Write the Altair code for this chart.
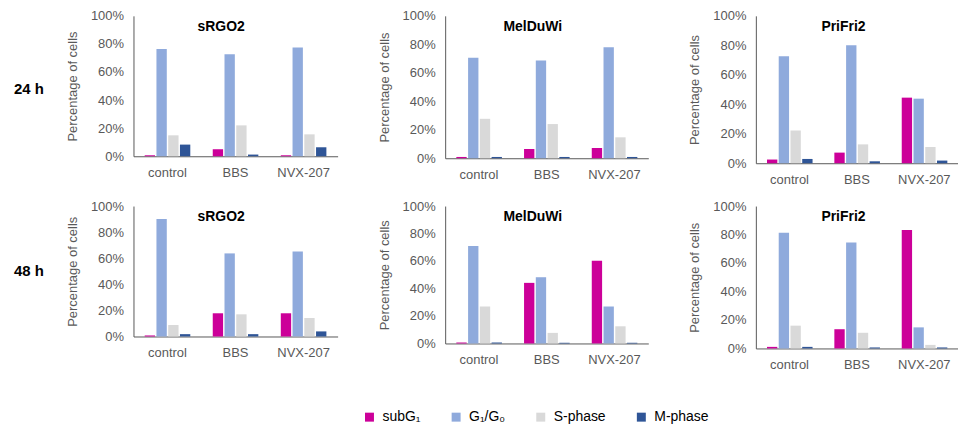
import altair as alt
import pandas as pd

treatments = ["control", "BBS", "NVX-207"]
phases = ["subG₁", "G₁/G₀", "S-phase", "M-phase"]
colors = ["#CC0099", "#8FAADC", "#D9D9D9", "#2F5597"]

# values (%) per treatment, ordered as phases: subG1, G1/G0, S-phase, M-phase
srgo2_24 = [[0.7, 76.4, 14.9, 8.3], [5.0, 72.6, 22.0, 1.2], [0.7, 77.5, 15.6, 6.4]]
melduwi_24 = [[0.9, 70.5, 27.7, 0.9], [6.5, 68.6, 24.0, 0.9], [7.2, 78.0, 14.7, 0.9]]
prifri2_24 = [[2.5, 72.6, 22.2, 2.9], [7.2, 80.0, 12.8, 1.3], [44.5, 43.8, 11.0, 1.8]]
srgo2_48 = [[0.8, 90.0, 8.8, 1.8], [17.8, 63.7, 17.0, 1.8], [17.8, 65.2, 14.2, 3.9]]
melduwi_48 = [[0.7, 71.0, 26.9, 0.7], [44.1, 48.2, 7.7, 0.5], [60.2, 26.9, 12.5, 0.5]]
prifri2_48 = [[1.1, 81.3, 16.0, 1.1], [13.5, 74.4, 11.0, 0.7], [83.1, 14.8, 2.5, 0.7]]

FONT = "Liberation Sans"
GREY = "#595959"


def to_df(vals):
    rows = []
    for t, row in zip(treatments, vals):
        for p, v in zip(phases, row):
            rows.append({"treatment": t, "phase": p, "value": v})
    return pd.DataFrame(rows)


def panel(vals, name, w, h, show_legend=False):
    df = to_df(vals)
    if show_legend:
        color = alt.Color(
            "phase:N", sort=phases, scale=alt.Scale(domain=phases, range=colors),
            legend=alt.Legend(
                orient="none", legendX=356, legendY=396, direction="horizontal",
                title=None, symbolType="square", symbolSize=81, symbolStrokeWidth=0,
                labelFontSize=14, labelFont=FONT, labelColor="#000000",
                columnPadding=28, columns=4, labelOffset=6,
            ),
        )
    else:
        color = alt.Color("phase:N", sort=phases,
                          scale=alt.Scale(domain=phases, range=colors), legend=None)
    bars = alt.Chart(df).mark_bar().encode(
        x=alt.X("treatment:N", sort=treatments, title=None,
                scale=alt.Scale(paddingInner=0.33, paddingOuter=0.165),
                axis=alt.Axis(labelAngle=0, ticks=False, domainColor=GREY,
                              labelColor=GREY, labelFontSize=13, labelFont=FONT,
                              labelPadding=10)),
        xOffset=alt.XOffset("phase:N", sort=phases,
                            scale=alt.Scale(paddingInner=0.12, paddingOuter=0)),
        y=alt.Y("value:Q", scale=alt.Scale(domain=[0, 100]),
                axis=alt.Axis(values=[0, 20, 40, 60, 80, 100],
                              labelExpr="datum.value + '%'",
                              title="Percentage of cells", grid=False, ticks=False,
                              domainColor=GREY, labelColor=GREY, labelFontSize=13,
                              labelFont=FONT, labelPadding=10, titleFont=FONT,
                              titleFontSize=13, titleFontWeight="normal",
                              titleColor=GREY, titlePadding=11)),
        color=color,
    )
    title = alt.Chart(pd.DataFrame({"t": [name]})).mark_text(
        fontWeight="bold", fontSize=14, font=FONT, color="#000000", baseline="middle"
    ).encode(text="t:N", x=alt.value(88), y=alt.value(11))
    return alt.layer(bars, title).properties(width=w, height=h)


def row_label(text, h, y):
    return alt.Chart(pd.DataFrame({"t": [text]})).mark_text(
        fontWeight="bold", fontSize=15, font=FONT, align="left", baseline="middle",
        color="#000000"
    ).encode(text="t:N", x=alt.value(6), y=alt.value(y)).properties(width=30, height=h)


row1 = alt.hconcat(
    row_label("24 h", 141, 73),
    alt.hconcat(
        panel(srgo2_24, "sRGO2", 205, 141, show_legend=True),
        panel(melduwi_24, "MelDuWi", 204, 143),
        panel(prifri2_24, "PriFri2", 203, 148),
        spacing=40,
    ),
    spacing=21,
)
row2 = alt.hconcat(
    row_label("48 h", 135, 65),
    alt.hconcat(
        panel(srgo2_48, "sRGO2", 205, 131),
        panel(melduwi_48, "MelDuWi", 204, 138),
        panel(prifri2_48, "PriFri2", 203, 143),
        spacing=40,
    ),
    spacing=21,
)

chart = alt.vconcat(row1, row2, spacing=14).properties(
    padding={"left": 0, "top": 1, "right": 0, "bottom": 0}
).configure_view(stroke=None).configure_axis(domainWidth=1)

chart.save("out.html", embed_options={"renderer": "svg", "actions": False})
